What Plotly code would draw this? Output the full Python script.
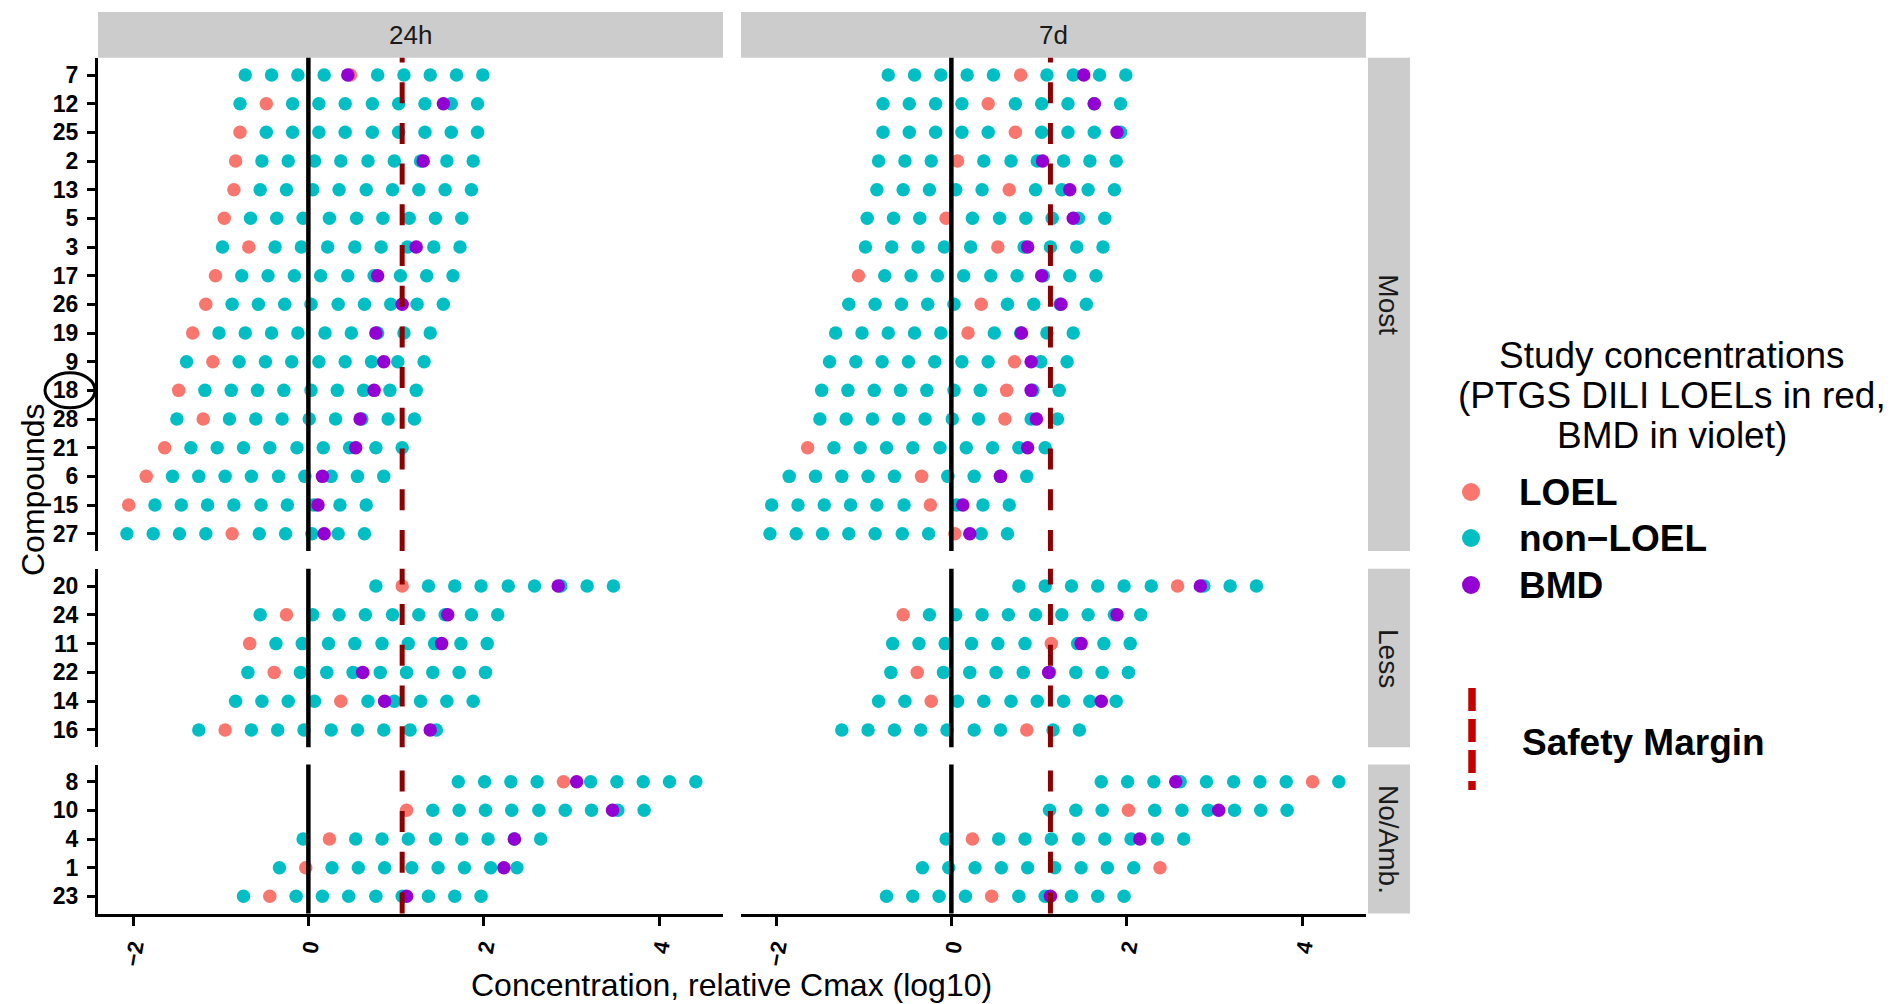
import plotly.graph_objects as go

FONT = "Liberation Sans, Arial, sans-serif"
W, H = 1895, 1004

# ---------------------------------------------------------------------------
# Data (log10 concentration relative to Cmax)
# ---------------------------------------------------------------------------
time_points = ["24h", "7d"]
safety_margin = [1.07, 1.13]
groups = ["Most", "Less", "No/Amb."]

most_compounds = ["7", "12", "25", "2", "13", "5", "3", "17", "26",
                  "19", "9", "18", "28", "21", "6", "15", "27"]
most_conc = [
    [-0.72, -0.42, -0.12, 0.18, 0.48, 0.79, 1.09, 1.39, 1.69, 1.99],
    [-0.78, -0.48, -0.18, 0.12, 0.42, 0.73, 1.03, 1.33, 1.63, 1.93],
    [-0.78, -0.48, -0.18, 0.12, 0.42, 0.73, 1.03, 1.33, 1.63, 1.93],
    [-0.83, -0.53, -0.23, 0.07, 0.37, 0.68, 0.98, 1.28, 1.58, 1.88],
    [-0.85, -0.55, -0.25, 0.05, 0.35, 0.66, 0.96, 1.26, 1.56, 1.86],
    [-0.96, -0.66, -0.36, -0.06, 0.24, 0.55, 0.85, 1.15, 1.45, 1.75],
    [-0.98, -0.68, -0.38, -0.08, 0.22, 0.53, 0.83, 1.13, 1.43, 1.73],
    [-1.06, -0.76, -0.46, -0.16, 0.14, 0.45, 0.75, 1.05, 1.35, 1.65],
    [-1.17, -0.87, -0.57, -0.27, 0.03, 0.34, 0.64, 0.94, 1.24, 1.54],
    [-1.32, -1.02, -0.72, -0.42, -0.12, 0.19, 0.49, 0.79, 1.09, 1.39],
    [-1.39, -1.09, -0.79, -0.49, -0.19, 0.12, 0.42, 0.72, 1.02, 1.32],
    [-1.48, -1.18, -0.88, -0.58, -0.28, 0.03, 0.33, 0.63, 0.93, 1.23],
    [-1.50, -1.20, -0.90, -0.60, -0.30, 0.01, 0.31, 0.61, 0.91, 1.21],
    [-1.64, -1.34, -1.04, -0.74, -0.44, -0.13, 0.17, 0.47, 0.77, 1.07],
    [-1.85, -1.55, -1.25, -0.95, -0.65, -0.34, -0.04, 0.26, 0.56, 0.86],
    [-2.05, -1.75, -1.45, -1.15, -0.85, -0.54, -0.24, 0.06, 0.36, 0.66],
    [-2.07, -1.77, -1.47, -1.17, -0.87, -0.56, -0.26, 0.04, 0.34, 0.64],
]
most_loel_24h = [0.48, -0.48, -0.78, -0.83, -0.85, -0.96, -0.68, -1.06, -1.17,
                 -1.32, -1.09, -1.48, -1.20, -1.64, -1.85, -2.05, -0.87]
most_bmd_24h = [0.45, 1.54, None, 1.31, None, None, 1.23, 0.79, 1.07,
                0.77, 0.86, 0.75, 0.59, 0.54, 0.16, 0.11, 0.18]
most_loel_7d = [0.79, 0.42, 0.73, 0.07, 0.66, -0.06, 0.53, -1.06, 0.34,
                0.19, 0.72, 0.63, 0.61, -1.64, -0.34, -0.24, 0.04]
most_bmd_7d = [1.51, 1.63, 1.89, 1.04, 1.35, 1.39, 0.87, 1.03, 1.25,
               0.80, 0.91, 0.91, 0.97, 0.87, 0.56, 0.13, 0.21]

less_compounds = ["20", "24", "11", "22", "14", "16"]
less_conc = [
    [0.77, 1.07, 1.37, 1.67, 1.97, 2.28, 2.58, 2.88, 3.18, 3.48],
    [-0.55, -0.25, 0.05, 0.35, 0.65, 0.96, 1.26, 1.56, 1.86, 2.16],
    [-0.67, -0.37, -0.07, 0.23, 0.53, 0.84, 1.14, 1.44, 1.74, 2.04],
    [-0.69, -0.39, -0.09, 0.21, 0.51, 0.82, 1.12, 1.42, 1.72, 2.02],
    [-0.83, -0.53, -0.23, 0.07, 0.37, 0.68, 0.98, 1.28, 1.58, 1.88],
    [-1.25, -0.95, -0.65, -0.35, -0.05, 0.26, 0.56, 0.86, 1.16, 1.46],
]
less_loel_24h = [1.07, -0.25, -0.67, -0.39, 0.37, -0.95]
less_bmd_24h = [2.85, 1.59, 1.52, 0.62, 0.87, 1.39]
less_loel_7d = [2.58, -0.55, 1.14, -0.39, -0.23, 0.86]
less_bmd_7d = [2.84, 1.89, 1.48, 1.11, 1.71, None]

noamb_compounds = ["8", "10", "4", "1", "23"]
noamb_conc = [
    [1.71, 2.01, 2.31, 2.61, 2.91, 3.22, 3.52, 3.82, 4.12, 4.42],
    [1.12, 1.42, 1.72, 2.02, 2.32, 2.63, 2.93, 3.23, 3.53, 3.83],
    [-0.06, 0.24, 0.54, 0.84, 1.14, 1.45, 1.75, 2.05, 2.35, 2.65],
    [-0.33, -0.03, 0.27, 0.57, 0.87, 1.18, 1.48, 1.78, 2.08, 2.38],
    [-0.74, -0.44, -0.14, 0.16, 0.46, 0.77, 1.07, 1.37, 1.67, 1.97],
]
noamb_loel_24h = [2.91, 1.12, 0.24, -0.03, -0.44]
noamb_bmd_24h = [3.06, 3.47, 2.35, 2.23, 1.12]
noamb_loel_7d = [4.12, 2.02, 0.24, 2.38, 0.46]
noamb_bmd_7d = [2.56, 3.05, 2.15, None, 1.13]

x_ticks = [-2, 0, 2, 4]

# ---------------------------------------------------------------------------
# Styling / layout geometry (pixels on a 1895 x 1004 canvas)
# ---------------------------------------------------------------------------
COL_LOEL = "#F8766D"
COL_NON = "#00BFC4"
COL_BMD = "#9400D3"
COL_MARGIN = "#8B0000"
STRIP_FILL = "#CCCCCC"
STRIP_TEXT = "#1A1A1A"
X_RANGE = [-2.40, 4.73]

col_px = [(98, 723), (741, 1366)]
row_px = [(57.8, 550.9), (568.8, 747.2), (764.5, 913.5)]
strip_top = 12


def px(x):
    return x / W


def py(y):
    return 1 - y / H


panels = [
    (most_compounds, most_conc, [most_loel_24h, most_loel_7d], [most_bmd_24h, most_bmd_7d]),
    (less_compounds, less_conc, [less_loel_24h, less_loel_7d], [less_bmd_24h, less_bmd_7d]),
    (noamb_compounds, noamb_conc, [noamb_loel_24h, noamb_loel_7d], [noamb_bmd_24h, noamb_bmd_7d]),
]

fig = go.Figure()
layout = {}
shapes = []
annotations = []


def axis_id(prefix, n):
    return prefix if n == 1 else f"{prefix}{n}"


for c in range(2):
    xa = axis_id("x", c + 1)
    for r, (compounds, conc, loels, bmds) in enumerate(panels):
        n = c * 3 + r + 1
        ya = axis_id("y", n)
        loel = loels[c]
        bmd = bmds[c]

        xn, yn, xl, yl = [], [], [], []
        for comp, values, lv in zip(compounds, conc, loel):
            for v in values:
                if lv is not None and abs(v - lv) < 1e-9:
                    xl.append(v)
                    yl.append(comp)
                else:
                    xn.append(v)
                    yn.append(comp)
        xb = [b for b in bmd if b is not None]
        yb = [comp for comp, b in zip(compounds, bmd) if b is not None]

        for xs, ys, colr, name in [(xn, yn, COL_NON, "non\u2212LOEL"),
                                   (xl, yl, COL_LOEL, "LOEL"),
                                   (xb, yb, COL_BMD, "BMD")]:
            fig.add_trace(go.Scatter(
                x=xs, y=ys, mode="markers", name=name, showlegend=False,
                xaxis=xa, yaxis=ya,
                marker=dict(color=colr, size=13.5, line=dict(width=0)),
                hoverinfo="x+y",
            ))

        nrow = len(compounds)
        ydict = dict(
            domain=[py(row_px[r][1]), py(row_px[r][0])],
            anchor=xa,
            type="category",
            categoryorder="array",
            categoryarray=compounds,
            range=[nrow - 0.4, -0.6],
            showgrid=False,
            zeroline=False,
        )
        if c == 0:
            ydict.update(
                showline=True, linecolor="black", linewidth=3,
                ticks="outside", ticklen=8, tickwidth=3, tickcolor="black",
                ticklabelstandoff=4,
                tickfont=dict(family=FONT, size=23, color="black", weight="bold"),
            )
        else:
            ydict.update(showline=False, ticks="", showticklabels=False)
        layout[axis_id("yaxis", n)] = ydict

        dom_ref = f"{ya} domain"
        # vertical reference line at x = 0
        shapes.append(dict(type="line", xref=xa, yref=dom_ref,
                           x0=0, x1=0, y0=0, y1=1, layer="above",
                           line=dict(color="black", width=4.5)))
        # safety margin (dashes start at the panel bottom)
        shapes.append(dict(type="line", xref=xa, yref=dom_ref,
                           x0=safety_margin[c], x1=safety_margin[c], y0=0, y1=1,
                           layer="above",
                           line=dict(color=COL_MARGIN, width=5, dash="21px,19.7px")))

    layout[axis_id("xaxis", c + 1)] = dict(
        domain=[px(col_px[c][0]), px(col_px[c][1])],
        anchor=axis_id("y", c * 3 + 3),
        range=X_RANGE,
        tickmode="array",
        tickvals=x_ticks,
        ticks="outside", ticklen=9, tickwidth=3, tickcolor="black",
        showline=True, linecolor="black", linewidth=3,
        tickangle=-80,
        tickfont=dict(family=FONT, size=22, color="black", weight="bold"),
        showgrid=False, zeroline=False,
    )

    # column strip
    x0, x1 = col_px[c]
    shapes.append(dict(type="rect", xref="paper", yref="paper",
                       x0=px(x0), x1=px(x1), y0=py(row_px[0][0]), y1=py(strip_top),
                       fillcolor=STRIP_FILL, line=dict(width=0), layer="below"))
    annotations.append(dict(text=time_points[c], xref="paper", yref="paper",
                            x=px((x0 + x1) / 2), y=py((strip_top + row_px[0][0]) / 2),
                            showarrow=False, xanchor="center", yanchor="middle",
                            font=dict(family=FONT, size=26, color=STRIP_TEXT)))

# row strips
for r, g in enumerate(groups):
    y0, y1 = row_px[r]
    shapes.append(dict(type="rect", xref="paper", yref="paper",
                       x0=px(1368), x1=px(1410), y0=py(y1), y1=py(y0),
                       fillcolor=STRIP_FILL, line=dict(width=0), layer="below"))
    annotations.append(dict(text=g, xref="paper", yref="paper",
                            x=px(1389), y=py((y0 + y1) / 2), textangle=90,
                            showarrow=False, xanchor="center", yanchor="middle",
                            font=dict(family=FONT, size=28, color=STRIP_TEXT)))

# ring around compound 18 label
idx18 = most_compounds.index("18")
shapes.append(dict(type="circle", xref="paper", yref="y",
                   x0=px(45), x1=px(95), y0=idx18 - 0.61, y1=idx18 + 0.61,
                   line=dict(color="black", width=3), layer="above"))

# axis titles
annotations.append(dict(text="Compounds", xref="paper", yref="paper",
                        x=px(33), y=py(490), textangle=-90, showarrow=False,
                        xanchor="center", yanchor="middle",
                        font=dict(family=FONT, size=32, color="black")))
annotations.append(dict(text="Concentration, relative Cmax (log10)",
                        xref="paper", yref="paper",
                        x=px(731.5), y=py(985), showarrow=False,
                        xanchor="center", yanchor="middle",
                        font=dict(family=FONT, size=32, color="black")))

# legend
title_lines = ["Study concentrations", "(PTGS DILI LOELs in red,", "BMD in violet)"]
for line, yy in zip(title_lines, [355, 395, 435]):
    annotations.append(dict(text=line, xref="paper", yref="paper",
                            x=px(1672), y=py(yy), showarrow=False,
                            xanchor="center", yanchor="middle",
                            font=dict(family=FONT, size=37, color="black")))

legend_items = [("LOEL", COL_LOEL, 492), ("non\u2212LOEL", COL_NON, 538), ("BMD", COL_BMD, 585)]
for label, colr, yy in legend_items:
    shapes.append(dict(type="circle", xref="paper", yref="paper",
                       xsizemode="pixel", ysizemode="pixel",
                       xanchor=px(1471), yanchor=py(yy),
                       x0=-9, x1=9, y0=-9, y1=9,
                       fillcolor=colr, line=dict(width=0)))
    annotations.append(dict(text=label, xref="paper", yref="paper",
                            x=px(1517), y=py(yy), showarrow=False,
                            xanchor="left", yanchor="middle",
                            font=dict(family=FONT, size=37, color="black", weight="bold")))

shapes.append(dict(type="line", xref="paper", yref="paper",
                   x0=px(1472), x1=px(1472), y0=py(688), y1=py(790),
                   line=dict(color="#C40000", width=7.5, dash="23px,8px")))
annotations.append(dict(text="Safety Margin", xref="paper", yref="paper",
                        x=px(1520), y=py(742), showarrow=False,
                        xanchor="left", yanchor="middle",
                        font=dict(family=FONT, size=37, color="black", weight="bold")))

fig.update_layout(
    width=W, height=H,
    margin=dict(l=0, r=0, t=0, b=0),
    paper_bgcolor="white", plot_bgcolor="white",
    showlegend=False,
    font=dict(family=FONT, color="black"),
    shapes=shapes,
    annotations=annotations,
    **layout,
)

fig.write_html("out.html")
